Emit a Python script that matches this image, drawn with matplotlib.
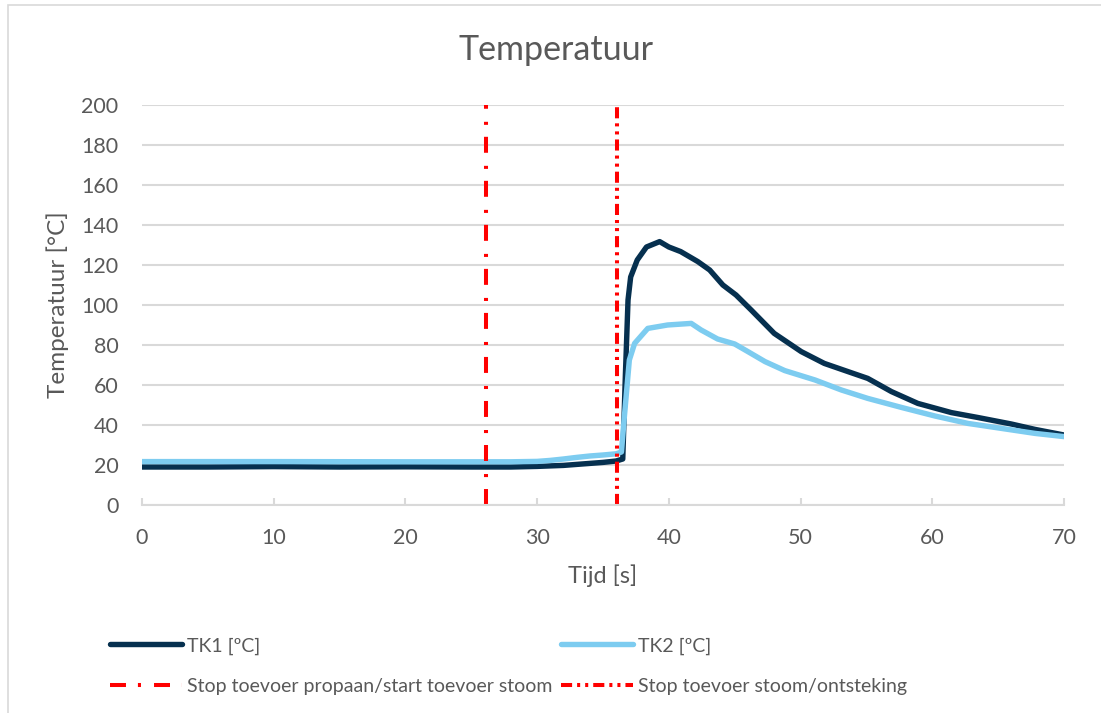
import matplotlib
matplotlib.use("Agg")
import matplotlib.pyplot as plt
from matplotlib.lines import Line2D
from matplotlib.patches import Rectangle

plt.rcParams['font.family'] = ['Lato', 'DejaVu Sans']
plt.rcParams['lines.scale_dashes'] = False

# ---- data ----
t_tk1 = [0, 5, 10, 15, 20, 25, 28, 30, 32, 34, 35, 36, 36.5, 36.7, 36.9, 37.1, 37.6,
         38.3, 39.3, 40.0, 40.9, 42.2, 43.1, 44.1, 45.1, 46.25, 48.0, 50.05, 51.8,
         53.6, 55.1, 56.9, 58.9, 61.45, 63.5, 66.0, 67.8, 70]
tk1 = [19, 19, 19.2, 19, 19.1, 19, 19, 19.3, 19.8, 20.8, 21.3, 22, 23, 65, 102.5, 114,
       122.5, 129, 131.7, 129, 126.7, 121.7, 117.5, 110, 105, 97.5, 85.8, 76.7, 70.8,
       66.7, 63.3, 56.7, 50.8, 46.2, 43.7, 40.5, 37.8, 35]

t_tk2 = [0, 10, 20, 28, 30, 31, 32, 33, 34, 35, 36.0, 36.4, 36.6, 37.0, 37.4, 38.4,
         39.9, 41.7, 42.45, 43.7, 45.0, 46.0, 47.3, 48.8, 51.1, 53.1, 55.1, 57.65,
         60.2, 62.7, 65.25, 67.8, 70]
tk2 = [21.7, 21.7, 21.6, 21.6, 21.8, 22.3, 23, 23.8, 24.5, 25, 25.6, 26.5, 42.5, 72.5,
       80.8, 88.3, 90, 90.8, 87.5, 83, 80.5, 76.7, 71.7, 67.2, 62.5, 57.5, 53.3, 48.8,
       44.5, 40.8, 38.3, 35.8, 34.2]

event_times = [26.1, 36.1]
event_labels = ["Stop toevoer propaan/start toevoer stoom", "Stop toevoer stoom/ontsteking"]
series_labels = ["TK1 [ºC]", "TK2 [ºC]"]
x_ticks = [0, 10, 20, 30, 40, 50, 60, 70]
y_ticks = [0, 20, 40, 60, 80, 100, 120, 140, 160, 180, 200]

# ---- style ----
TXT = '#595959'
GRID = '#D9D9D9'
C1 = '#06304F'
C2 = '#7DCCF0'
RED = '#FF0000'
dash1 = (0, (11.5, 8.6, 2.2, 9.4))
dash2 = (0, (8, 3.6, 2.2, 3.6, 2.2, 3.6))

W, H = 1101, 713
fig = plt.figure(figsize=(W / 100, H / 100), dpi=100)
fig.patch.set_facecolor('white')
fig.patches.append(Rectangle((7.5 / W, -0.1), 1.2, 1 - 5.5 / H + 0.1, transform=fig.transFigure,
                             fill=False, edgecolor=GRID, lw=1.2))

ax = fig.add_axes([142 / W, 1 - 505 / H, (1064 - 142) / W, (505 - 105) / H])
ax.set_xlim(0, 70)
ax.set_ylim(0, 200)
ax.set_xticks(x_ticks)
ax.set_yticks(y_ticks)
ax.yaxis.grid(True, color=GRID, lw=1.5)
ax.set_axisbelow(True)
for s in ['top', 'right', 'left']:
    ax.spines[s].set_visible(False)
ax.spines['bottom'].set_color(GRID)
ax.spines['bottom'].set_linewidth(1.5)
ax.tick_params(axis='x', direction='in', length=5, width=1.5, color=GRID,
               labelsize=15.5, labelcolor=TXT, pad=16.5)
ax.tick_params(axis='y', length=0, labelsize=15.5, labelcolor=TXT, pad=17)

l1, = ax.plot(t_tk1, tk1, color=C1, lw=3.9, solid_capstyle='round', label=series_labels[0])
l2, = ax.plot(t_tk2, tk2, color=C2, lw=3.9, solid_capstyle='round', label=series_labels[1])
v1 = ax.vlines(event_times[0], 0, 200, color=RED, lw=2.9, linestyles=[dash1])
v2 = ax.vlines(event_times[1], 0, 200, color=RED, lw=2.9, linestyles=[dash2])

ax.set_xlabel("Tijd [s]", fontsize=17, color=TXT, labelpad=12)
ax.set_ylabel("Temperatuur [°C]", fontsize=17.5, color=TXT, labelpad=9)
fig.text(556 / W, 1 - 50 / H, "Temperatuur", fontsize=24.5, color=TXT, ha='center', va='center')

h1 = Line2D([], [], color=RED, lw=2.9, linestyle=dash1)
h2 = Line2D([], [], color=RED, lw=2.9, linestyle=dash2)
fs = 14
leg = fig.legend([l1, h1, l2, h2],
                 [series_labels[0], event_labels[0], series_labels[1], event_labels[1]],
                 ncol=2, loc='center left', bbox_to_anchor=(110 / W, 1 - 666 / H),
                 frameon=False, fontsize=fs, borderpad=0, borderaxespad=0,
                 handlelength=72 / (fs * 100 / 72), handletextpad=5 / (fs * 100 / 72),
                 columnspacing=9 / (fs * 100 / 72), labelspacing=1.2, labelcolor=TXT)

fig.savefig("out.png", dpi=100)
